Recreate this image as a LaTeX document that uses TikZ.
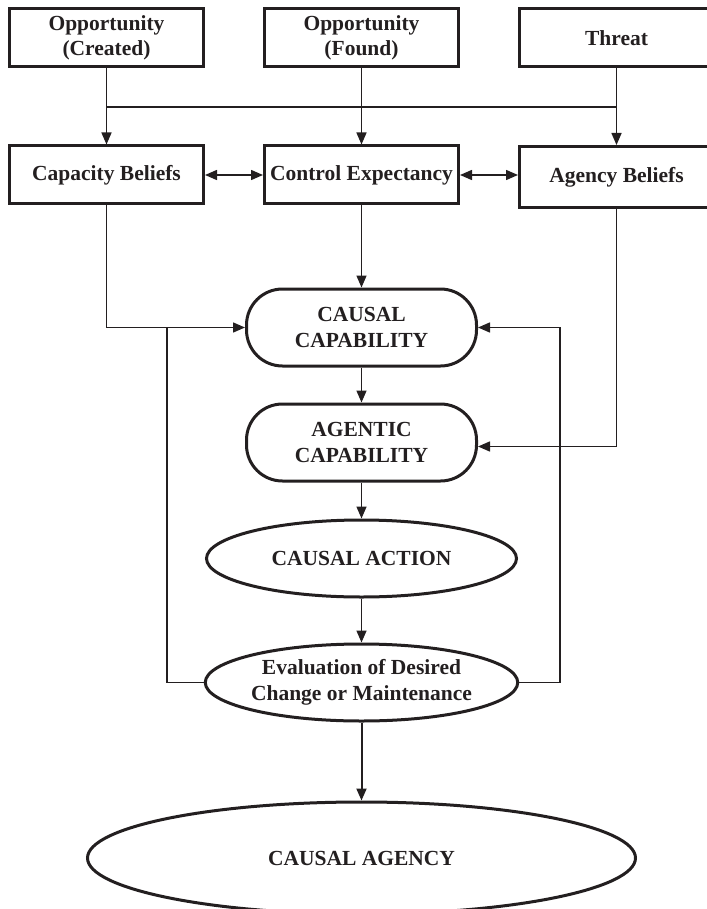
\documentclass[tikz,border=0pt]{standalone}
\usepackage{fontspec}
\setmainfont{Liberation Serif}
\usepackage{tikz}
\usetikzlibrary{positioning,arrows.meta,shapes.geometric,calc}
\definecolor{ink}{HTML}{231F20}

\begin{document}
\begin{tikzpicture}[
  x=1pt, y=-1pt,
  font=\fontsize{21.5}{25.5}\selectfont\bfseries,
  every node/.style={text=ink},
  node distance=58pt and 58pt,
  box/.style={rectangle, draw=ink, line width=3pt, minimum height=58pt, minimum width=194pt, align=center, inner sep=0pt},
  capab/.style={rectangle, draw=ink, line width=3pt, rounded corners=36pt, minimum height=77pt, minimum width=230pt, align=center, inner sep=0pt},
  oval/.style={ellipse, draw=ink, line width=3pt, minimum height=77pt, minimum width=310pt, align=center, inner sep=0pt},
  arr/.style={-{Triangle[length=12pt, width=10pt]}, draw=ink, line width=1.5pt},
  dbl/.style={{Triangle[length=12pt, width=10pt]}-{Triangle[length=12pt, width=10pt]}, draw=ink, line width=1.5pt},
  link/.style={draw=ink, line width=1.5pt},
]
\useasboundingbox (0,0) rectangle (706,909);

\node[box] (oc) at (106.5,38) {Opportunity\\(Created)};
\node[box, right=of oc] (of) {Opportunity\\(Found)};
\node[box, right=of of] (th) {Threat};

\node[box] (cb) at (106.5,175) {Capacity Beliefs};
\node[box, right=of cb] (ce) {Control Expectancy};
\node[box, right=of ce, minimum height=61pt, yshift=-2pt] (ab) {Agency Beliefs};

\node[capab] (cc) at (361.5,327.5) {CAUSAL\\CAPABILITY};
\node[capab, below=35pt of cc] (ac) {AGENTIC\\CAPABILITY};
\node[oval, below=36pt of ac] (ca) {CAUSAL ACTION};
\node[oval, below=44pt of ca] (ev) {Evaluation of Desired\\Change or Maintenance};
\node[oval, below=78pt of ev, minimum width=548pt, minimum height=112pt] (ag) {CAUSAL AGENCY};

\coordinate (j1) at (oc.south |- 0,107);
\coordinate (j3) at (th.south |- 0,107);
\coordinate (fl) at ($(cc.west)+(-78,0)$);
\coordinate (fr) at ($(cc.east)+(82,0)$);

\draw[arr] (oc.south) -- (cb.north);
\draw[arr] (of.south) -- (ce.north);
\draw[arr] (th.south) -- (ab.north);
\draw[link] (j1) -- (j3);
\draw[dbl] (cb.east) -- (ce.west);
\draw[dbl] (ce.east) -- (ab.west |- ce.east);

\draw[arr] (cb.south) |- (cc.west);
\draw[arr] (ce.south) -- (cc.north);
\draw[arr] (cc.south) -- (ac.north);
\draw[arr] (ab.south) |- ($(ac.east)+(0,4)$);
\draw[arr] (ac.south) -- (ca.north);
\draw[arr] (ca.south) -- (ev.north);
\draw[arr, line width=2pt] (ev.south) -- (ag.north);

\draw[link] (ev.west) -| (fl);
\draw[arr] (ev.east) -| (fr) -- (cc.east);
\end{tikzpicture}
\end{document}
